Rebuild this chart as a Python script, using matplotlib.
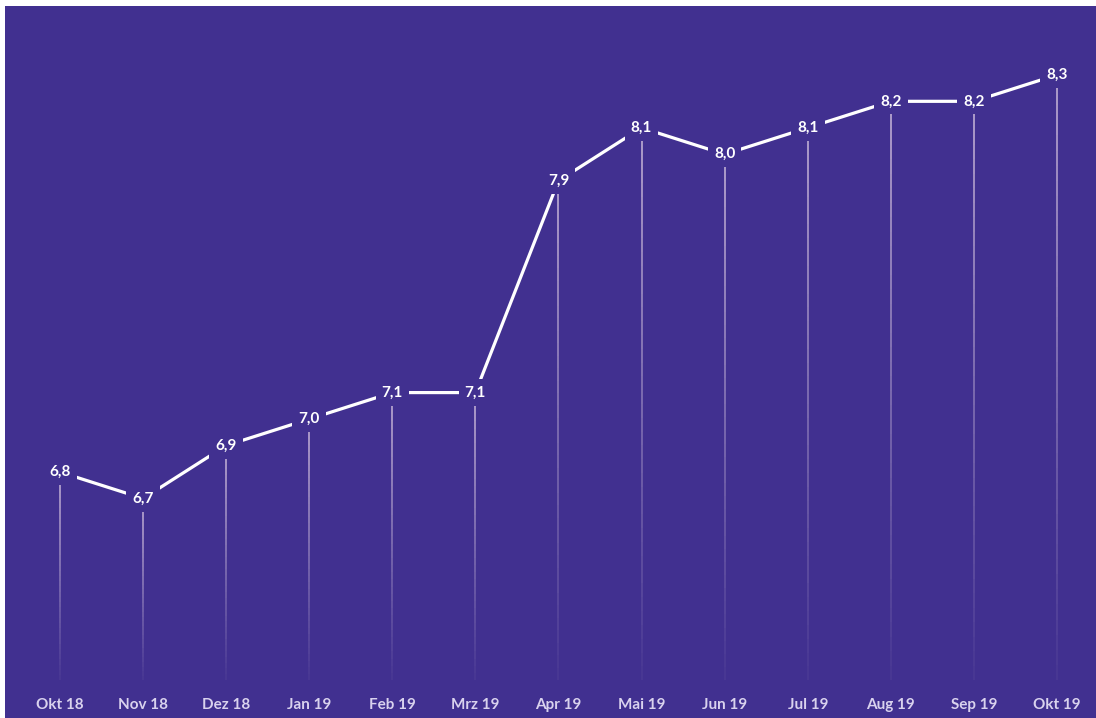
import numpy as np
import matplotlib.pyplot as plt
from matplotlib.collections import LineCollection

months = ["Okt 18", "Nov 18", "Dez 18", "Jan 19", "Feb 19", "Mrz 19", "Apr 19",
          "Mai 19", "Jun 19", "Jul 19", "Aug 19", "Sep 19", "Okt 19"]
values = [6.8, 6.7, 6.9, 7.0, 7.1, 7.1, 7.9, 8.1, 8.0, 8.1, 8.2, 8.2, 8.3]

bg = "#413090"

fig = plt.figure(figsize=(10.96, 7.18), dpi=100, facecolor="white")
ax = fig.add_axes([5 / 1096, 0, 1 - 5 / 1096, 712 / 718])
ax.set_facecolor(bg)
for s in ax.spines.values():
    s.set_visible(False)
ax.set_xticks([])
ax.set_yticks([])
ax.set_xlim(-0.662, 12.47)
ax.set_ylim(5.871, 8.560)

x = np.arange(len(values))

# drop lines that fade toward the bottom
bottom = 6.014
for xi, v in zip(x, values):
    ys = np.linspace(v, bottom, 41)
    segs = [[(xi, ys[k]), (xi, ys[k + 1])] for k in range(40)]
    alphas = np.linspace(0.75, 0.05, 40)
    cols = [(0.92, 0.85, 0.92, a) for a in alphas]
    ax.add_collection(LineCollection(segs, colors=cols, linewidths=1.2, zorder=2))

ax.plot(x, values, color="white", lw=2.3, solid_capstyle="butt", zorder=3)

for xi, v in zip(x, values):
    ax.text(xi, v, f"{v:.1f}".replace(".", ","), color="white", fontsize=11,
            fontweight="bold", family="Lato", ha="center", va="center", zorder=4,
            bbox=dict(boxstyle="square,pad=0.4", fc=bg, ec="none"))

for xi, m in zip(x, months):
    ax.text(xi, 13 / 712, m, transform=ax.get_xaxis_transform(), color="#d9d2ee",
            fontsize=11, fontweight="bold", family="Lato", ha="center", va="center")

fig.savefig("out.png", dpi=100, facecolor="white")
